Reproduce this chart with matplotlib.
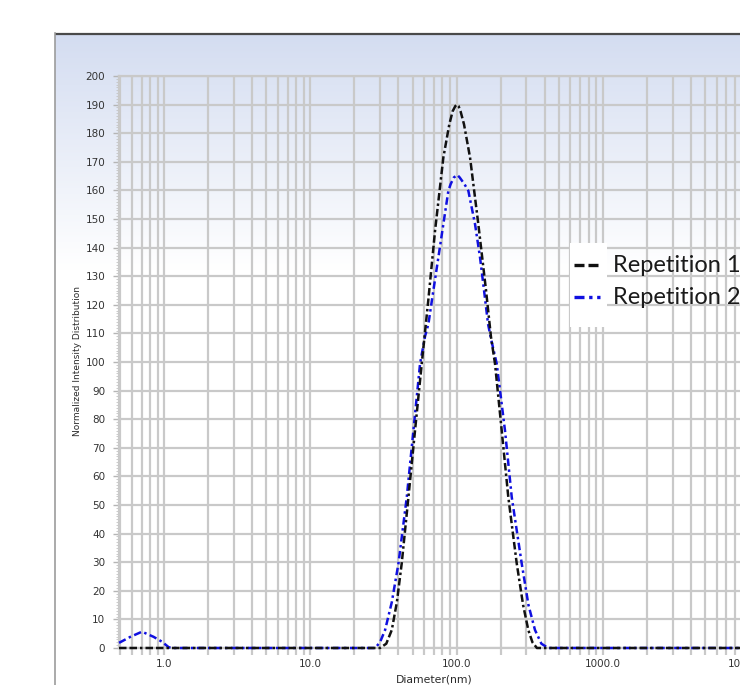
import numpy as np
import matplotlib
matplotlib.use('Agg')
import matplotlib.pyplot as plt
from matplotlib.ticker import LogLocator, MultipleLocator, NullFormatter
from matplotlib.patches import Rectangle

# ---------------- data ----------------
rep1_d = [0.49, 29.9, 33.0, 36.0, 39.0, 42.1, 46.8, 51.9, 57.7, 64.1, 71.2, 81.1, 89.1,
          93.9, 98.0, 100.2, 103.0, 106.3, 112.3, 123.5, 140.7, 158.9, 171.8, 183.0,
          203.4, 225.6, 257.6, 285.0, 309.2, 330.0, 354.0, 10000.0]
rep1_v = [0, 0, 1.5, 6.3, 16, 29.6, 52.8, 76, 99.4, 122, 146, 171.5, 183.1,
          187.7, 189.5, 190, 189.5, 187.7, 183.1, 171.5, 148.2, 125, 108.7, 99.4,
          76, 52.8, 29.6, 15, 6.3, 2, 0, 0]

rep2_d = [0.49, 0.586, 0.704, 0.845, 0.964, 1.07, 1.12, 27.7, 29.9, 32.4, 36.0, 40.0,
          45.6, 50.6, 56.2, 60.8, 64.1, 69.3, 75.0, 81.1, 87.8, 91.0, 95.6, 101.1, 105.0,
          113.0, 120.2, 133.6, 144.5, 154.0, 164.0, 172.0, 188.0, 214.2, 238.1, 278.6,
          310.0, 343.5, 380.0, 423.4, 10000.0]
rep2_v = [1.8, 3.9, 5.7, 3.9, 2.2, 0.3, 0, 0, 2, 6.3, 16, 29.6,
          52.8, 76, 99.4, 109, 113.3, 125, 136.6, 148.2, 159.9, 162.2, 164.5, 165.4, 164.5,
          162.2, 159.9, 148.2, 136.6, 125, 113.3, 108, 99.4, 76, 52.8, 29.6,
          15, 6.3, 1.5, 0, 0]

series_labels = ["Repetition 1", "Repetition 2"]
xtick_pos = [1, 10, 100, 1000, 10000]
xtick_labels = ["1.0", "10.0", "100.0", "1000.0", "10000.0"]
ytick_pos = list(range(0, 201, 10))

# ---------------- figure ----------------
W, H = 740, 685
fig = plt.figure(figsize=(W / 100, H / 100), dpi=100)

bg = fig.add_axes([0, 0, 1, 1], zorder=0)
bg.set_xlim(0, W)
bg.set_ylim(H, 0)
bg.axis('off')
t = np.linspace(0, 1, 256)[:, None]
top = np.array([0.83, 0.865, 0.945])[None, :]
cols = top * (1 - t) + 1.0 * t
bg.imshow(cols[:, None, :], extent=(55, W, 270, 34), aspect='auto', zorder=0)
bg.plot([55, W], [33.5, 33.5], color='#4a4a4a', lw=1.6, solid_capstyle='butt', zorder=2)
bg.plot([55, 55], [33, H], color='#9c9c9c', lw=1.2, zorder=2)

ax = fig.add_axes([119 / W, 37 / H, 630 / W, 572 / H], zorder=1)
ax.patch.set_alpha(0)
ax.set_xscale('log')
ax.set_xlim(0.49, 10000)
ax.set_ylim(0, 200)

gcol = '#c9c9c9'
ax.set_xticks(xtick_pos)
ax.set_xticklabels(xtick_labels)
ax.xaxis.set_minor_locator(LogLocator(base=10, subs=range(2, 10), numticks=20))
ax.xaxis.set_minor_formatter(NullFormatter())
ax.set_yticks(ytick_pos)
ax.set_yticklabels([str(v) for v in ytick_pos])
ax.yaxis.set_minor_locator(MultipleLocator(1))

ax.grid(which='both', axis='x', color=gcol, lw=1.6, zorder=0)
ax.grid(which='major', axis='y', color=gcol, lw=1.6, zorder=0)
ax.set_axisbelow(True)

ax.tick_params(axis='x', which='both', length=5, width=1.6, color=gcol,
               labelsize=7.5, labelcolor='#333333', pad=3)
ax.tick_params(axis='y', which='major', length=4, width=1.0, color='#b5b5b5',
               labelsize=7.5, labelcolor='#333333', pad=6)
ax.tick_params(axis='y', which='minor', length=2, width=0.6, color='#c3c3c3')
for s in ax.spines.values():
    s.set_color(gcol)
    s.set_linewidth(1.6)
ax.spines['right'].set_visible(False)

ls1 = (0, (3.0, 1.2, 3.0, 1.2, 1.0, 1.2))
ls2 = (0, (3.0, 1.4, 1.0, 1.4))
c1, c2 = '#111111', '#1010e0'
ax.plot(rep1_d, rep1_v, color=c1, lw=1.8, ls=ls1, zorder=4, clip_on=False)
ax.plot(rep2_d, rep2_v, color=c2, lw=1.8, ls=ls2, zorder=3, clip_on=False)

fig.text(434 / W, 1 - 680 / H, "Diameter(nm)", ha='center', va='center',
         fontsize=7.8, color='#2a2a2a')
fig.text(78 / W, 1 - 361 / H, "Normalized Intensity Distribution", ha='center',
         va='center', rotation=90, fontsize=6.5, color='#2a2a2a')

# ---------------- legend (pasted-box style) ----------------
ov = fig.add_axes([0, 0, 1, 1], zorder=5)
ov.set_xlim(0, W)
ov.set_ylim(H, 0)
ov.axis('off')
ov.patch.set_alpha(0)
ov.add_patch(Rectangle((570, 243), 37, 84, facecolor='white', edgecolor='none'))
for yy, c, ls, lab in [(265, c1, ls1, series_labels[0]), (297, c2, ls2, series_labels[1])]:
    ov.plot([574, 600], [yy, yy], color=c, lw=2.4, ls=ls)
    ov.text(613, yy, lab, ha='left', va='center', fontsize=17, family='Lato', color='#1a1a1a')

fig.savefig('out.png', dpi=100)
